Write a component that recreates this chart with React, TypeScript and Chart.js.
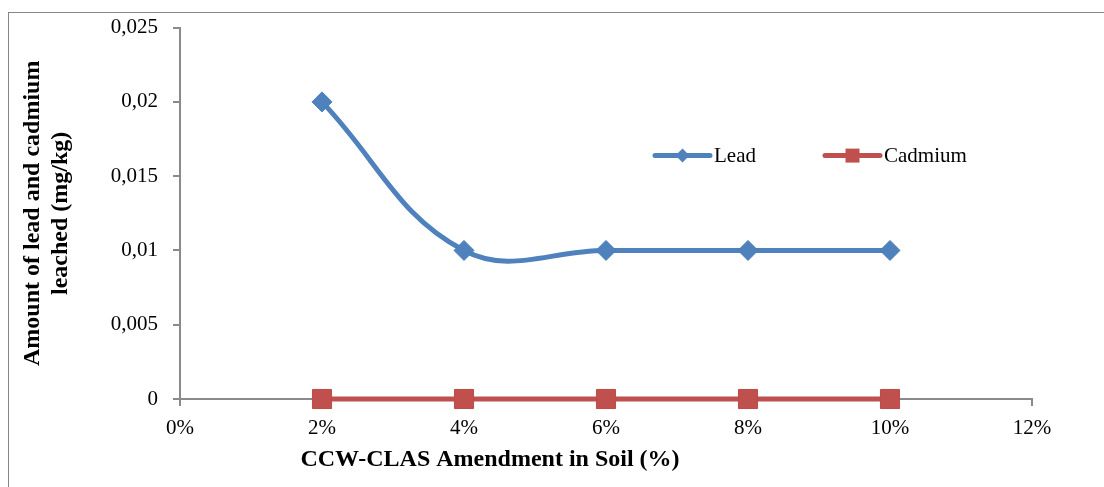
import React, { useEffect, useRef } from 'react';
import { Chart, registerables } from 'chart.js';

Chart.register(...registerables);

// ---- data ----
const xValues = [2, 4, 6, 8, 10];
const leadValues = [0.02, 0.01, 0.01, 0.01, 0.01];
const cadmiumValues = [0, 0, 0, 0, 0];
const seriesNames = ['Lead', 'Cadmium'];
const xTickLabels = ['0%', '2%', '4%', '6%', '8%', '10%', '12%'];
const yTickLabels = ['0', '0,005', '0,01', '0,015', '0,02', '0,025'];
const xAxisTitle = 'CCW-CLAS Amendment in Soil (%)';
const yAxisTitle = ['Amount of lead and cadmium', 'leached (mg/kg)'];

const FONT = '"Liberation Serif", "Times New Roman", serif';
const AXIS_COLOR = '#8a8a8a';
const LEAD_COLOR = '#4F81BD';
const CAD_COLOR = '#C0504D';

const legendPlugin = {
  id: 'customLegend',
  afterDraw(chart: any) {
    const { ctx, chartArea } = chart;
    const y = chartArea.top + 128;
    let x = chartArea.left + 475;
    chart.data.datasets.forEach((ds: any) => {
      ctx.save();
      ctx.strokeStyle = ds.borderColor;
      ctx.lineWidth = 5;
      ctx.lineCap = 'round';
      ctx.beginPath();
      ctx.moveTo(x, y);
      ctx.lineTo(x + 55, y);
      ctx.stroke();
      const cx = x + 27.5;
      ctx.fillStyle = ds.pointBackgroundColor;
      ctx.beginPath();
      if (ds.pointStyle === 'rectRot') {
        const h = 7;
        ctx.moveTo(cx - h, y);
        ctx.lineTo(cx, y - h);
        ctx.lineTo(cx + h, y);
        ctx.lineTo(cx, y + h);
        ctx.closePath();
      } else {
        const h = 7;
        ctx.rect(cx - h, y - h, 2 * h, 2 * h);
      }
      ctx.fill();
      ctx.fillStyle = '#000';
      ctx.font = `21px ${FONT}`;
      ctx.textBaseline = 'middle';
      ctx.textAlign = 'left';
      ctx.fillText(ds.label, x + 59, y + 1);
      ctx.restore();
      x += 170;
    });
  },
};

const xTitlePlugin = {
  id: 'xTitle',
  afterDraw(chart: any) {
    const { ctx, chartArea } = chart;
    ctx.save();
    ctx.fillStyle = '#000';
    ctx.font = `bold 24px ${FONT}`;
    ctx.textAlign = 'center';
    ctx.textBaseline = 'middle';
    ctx.fillText(xAxisTitle, chartArea.left + 310, chartArea.bottom + 61);
    ctx.restore();
  },
};

export default function App() {
  const ref = useRef<HTMLCanvasElement>(null);

  useEffect(() => {
    const toPoints = (vals: number[]) => vals.map((v, i) => ({ x: xValues[i], y: v }));
    const chart = new Chart(ref.current as HTMLCanvasElement, {
      type: 'line',
      data: {
        datasets: [
          {
            label: seriesNames[0],
            data: toPoints(leadValues),
            borderColor: LEAD_COLOR,
            backgroundColor: LEAD_COLOR,
            pointBackgroundColor: LEAD_COLOR,
            pointBorderColor: '#4A7EBB',
            pointStyle: 'rectRot',
            pointRadius: 10,
            pointBorderWidth: 1,
            borderWidth: 5,
            tension: 0.4,
            clip: false,
          } as any,
          {
            label: seriesNames[1],
            data: toPoints(cadmiumValues),
            borderColor: CAD_COLOR,
            backgroundColor: CAD_COLOR,
            pointBackgroundColor: CAD_COLOR,
            pointBorderColor: '#BE4B48',
            pointStyle: 'rect',
            pointRadius: 13.5,
            pointBorderWidth: 1,
            borderWidth: 5,
            tension: 0,
            clip: false,
          } as any,
        ],
      },
      options: {
        responsive: false,
        animation: false,
        events: [],
        layout: { padding: { left: 19, top: 25, right: 72, bottom: 0 } },
        font: { family: FONT },
        plugins: {
          legend: { display: false },
          tooltip: { enabled: false },
          title: { display: false },
        },
        scales: {
          x: {
            type: 'linear',
            min: 0,
            max: 12,
            afterFit: (s: any) => { s.height = 88; },
            ticks: {
              stepSize: 2,
              padding: 10,
              color: '#000',
              font: { family: FONT, size: 21 },
              callback: (_v: any, i: number) => xTickLabels[i],
            },
            grid: { drawOnChartArea: false, drawTicks: true, tickLength: 7, color: AXIS_COLOR, lineWidth: 2 },
            border: { display: true, color: AXIS_COLOR, width: 2 },
          },
          y: {
            type: 'linear',
            min: 0,
            max: 0.025,
            afterFit: (s: any) => { s.width = 161; },
            ticks: {
              stepSize: 0.005,
              padding: 15,
              color: '#000',
              font: { family: FONT, size: 21 },
              callback: (_v: any, i: number) => yTickLabels[i],
            },
            grid: { drawOnChartArea: false, drawTicks: true, tickLength: 7, color: AXIS_COLOR, lineWidth: 2 },
            border: { display: true, color: AXIS_COLOR, width: 2 },
            title: {
              display: true,
              text: yAxisTitle,
              color: '#000',
              font: { family: FONT, size: 24, weight: 'bold', lineHeight: 1.17 },
              padding: { top: 0, bottom: 0 },
            },
          },
        },
      },
      plugins: [legendPlugin, xTitlePlugin],
    } as any);
    return () => chart.destroy();
  }, []);

  return (
    <div style={{ position: 'fixed', left: 0, top: 0, width: 1104, height: 487, overflow: 'hidden', background: '#fff' }}>
      <div
        style={{
          position: 'absolute',
          left: 8,
          top: 12,
          width: 1200,
          height: 600,
          borderTop: '1px solid #868686',
          borderLeft: '1px solid #868686',
        }}
      />
      <canvas
        ref={ref}
        width={1104}
        height={487}
        style={{ position: 'absolute', left: 0, top: 0, width: 1104, height: 487 }}
      />
    </div>
  );
}
